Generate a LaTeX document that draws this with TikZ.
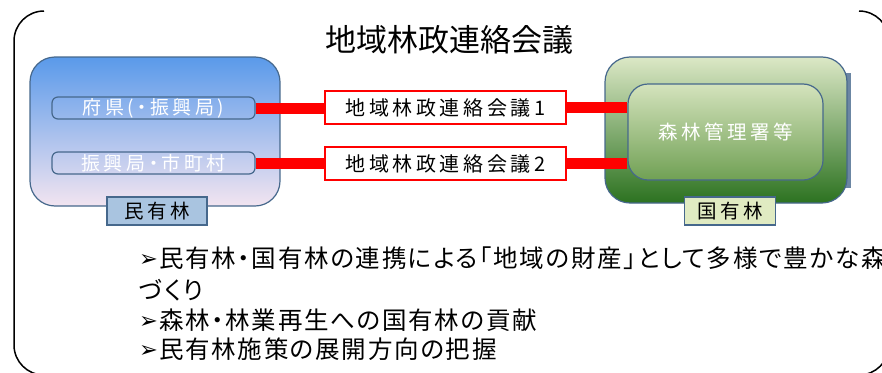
\documentclass[tikz,border=0pt]{standalone}
\usepackage{fontspec}
\setmainfont[RawFeature=+palt]{Noto Sans CJK JP}
\newfontfamily\symfont{DejaVu Sans}
\newfontfamily\widefont[LetterSpace=18,RawFeature=+palt]{Noto Sans CJK JP}
\newfontfamily\aimfont[LetterSpace=7,RawFeature=+palt]{Noto Sans CJK JP}
\usetikzlibrary{positioning}
\definecolor{edgeblue}{HTML}{46688C}
\definecolor{skytop}{HTML}{5A9AEA}
\definecolor{skymid}{HTML}{AFCFF2}
\definecolor{skybot}{HTML}{F2E4F0}
\definecolor{leaftop}{HTML}{DCE8C6}
\definecolor{leafmid}{HTML}{8DB46A}
\definecolor{leafbot}{HTML}{2C7220}
\definecolor{labelblue}{HTML}{A9C4E0}
\definecolor{labelgreen}{HTML}{E0EBC2}
\definecolor{linkred}{HTML}{FF0000}
\newcommand{\bul}{\makebox[20pt][l]{\raisebox{1pt}{\scalebox{1.25}{\symfont\fontsize{18}{18}\selectfont ➢}}}}

\begin{document}
\begin{tikzpicture}[x=1pt,y=1pt]
\tikzstyle{every node}+=[inner sep=0pt]
\tikzstyle{bigbox}=[draw=edgeblue, line width=1.2pt, rounded corners=25pt]
\tikzstyle{partbox}=[draw=edgeblue, line width=1.2pt, rounded corners=6pt, text=white, font=\widefont\fontsize{19}{19}\selectfont]
\tikzstyle{tagbox}=[draw=edgeblue, line width=1.2pt, font=\widefont\fontsize{19.5}{19.5}\selectfont]
\tikzstyle{meetbox}=[draw=linkred, line width=1.6pt, fill=white, font=\widefont\fontsize{20}{20}\selectfont]
\tikzstyle{redlink}=[linkred, line width=11pt]
\tikzstyle{point}=[anchor=west, font=\aimfont\fontsize{24.5}{24.5}\selectfont]
\useasboundingbox (0,0) rectangle (882,-372);
\clip (0,0) rectangle (882,-372);
% outer frame
\draw [black, line width=1.5pt, rounded corners=30pt] (44,-11) -- (14,-11) -- (14,-375) -- (889,-375) -- (889,-11) -- (859,-11);
\node (title) at (449.5,-40) {\fontsize{31}{31}\selectfont 地域林政連絡会議};
% private forest side
\node [bigbox, top color=skytop, middle color=skymid, bottom color=skybot, minimum width=250pt, minimum height=149pt] (minyu) at (155,-131.5) {};
\node [partbox, minimum width=203pt, minimum height=22pt] (fuken) at (153.5,-108) {府県(・振興局)};
\node [partbox, minimum width=203pt, minimum height=22pt] (shicho) at (153.5,-163) {振興局・市町村};
\node [tagbox, fill=labelblue, minimum width=100pt, minimum height=28pt] (minyutag) at (157,-211) {民有林};
% national forest side
\fill [edgeblue!80] (845,-73) rectangle (851,-188);
\node [bigbox, top color=leaftop, middle color=leafmid, bottom color=leafbot, minimum width=242pt, minimum height=146pt] (kokuyu) at (726,-130) {};
\node [bigbox, rounded corners=20pt, top color=leaftop!90!leafmid, bottom color=leafmid!70!leafbot, minimum width=195pt, minimum height=96pt, text=white, font=\widefont\fontsize{19.5}{19.5}\selectfont] (shoto) at (725.5,-132) {森林管理署等};
\node [tagbox, fill=labelgreen, minimum width=91pt, minimum height=28pt] (kokuyutag) at (730,-211) {国有林};
% meetings
\node [meetbox, minimum width=241pt, minimum height=33pt] (kaigi1) at (445.5,-107.5) {地域林政連絡会議1};
\node [meetbox, minimum width=241pt, minimum height=33pt] (kaigi2) at (445.5,-163.5) {地域林政連絡会議2};
\draw [redlink] (fuken.east) -- (fuken.east -| kaigi1.west);
\draw [redlink] (shicho.east) -- (shicho.east -| kaigi2.west);
\draw [redlink] (kaigi1.east) -- (kaigi1.east -| shoto.west);
\draw [redlink] (kaigi2.east) -- (kaigi2.east -| shoto.west);
% aims
\node [point] (aim1) at (139,-258) {\bul 民有林・国有林の連携による「地域の財産」として多様で豊かな森};
\node [point] (aim1b) at (139,-290) {づくり};
\node [point] (aim2) at (139,-320) {\bul 森林・林業再生への国有林の貢献};
\node [point] (aim3) at (139,-349) {\bul 民有林施策の展開方向の把握};
\end{tikzpicture}
\end{document}
